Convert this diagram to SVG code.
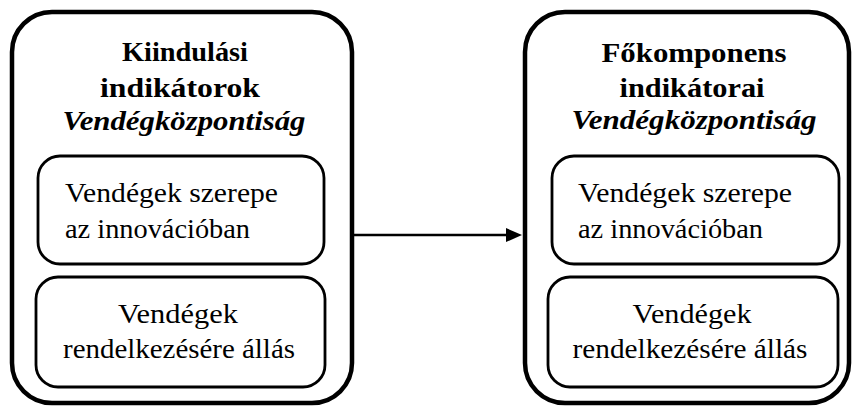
<svg xmlns="http://www.w3.org/2000/svg" width="859" height="410" viewBox="0 0 859 410" font-family="Liberation Serif, serif">
  <style>
    .outer { fill: #fff; stroke: #000; stroke-width: 4.5; }
    .inner { fill: #fff; stroke: #000; stroke-width: 2.8; }
    .title { font-size: 27px; font-weight: bold; fill: #000; }
    .sub { font-size: 27px; font-weight: bold; font-style: italic; fill: #000; }
    .body { font-size: 28px; fill: #000; }
    .conn { stroke: #000; stroke-width: 2.5; fill: none; }
  </style>
  <rect width="859" height="410" fill="#fff"/>

  <!-- Left block: starting indicators -->
  <g id="node-kiindulasi">
    <rect class="outer" x="12" y="12" width="340" height="391" rx="40" ry="40"/>
    <text class="title" x="185" y="61" text-anchor="middle" textLength="126" lengthAdjust="spacingAndGlyphs">Kiindulási</text>
    <text class="title" x="180" y="97" text-anchor="middle" textLength="160" lengthAdjust="spacingAndGlyphs">indikátorok</text>
    <text class="sub" x="184" y="130" text-anchor="middle" textLength="243" lengthAdjust="spacingAndGlyphs">Vendégközpontiság</text>
  </g>
  <g id="node-left-szerepe">
    <rect class="inner" x="38" y="156" width="286" height="108" rx="22" ry="22"/>
    <text class="body" x="65" y="202" textLength="213" lengthAdjust="spacingAndGlyphs">Vendégek szerepe</text>
    <text class="body" x="65" y="238" textLength="185" lengthAdjust="spacingAndGlyphs">az innovációban</text>
  </g>
  <g id="node-left-rendelkezes">
    <rect class="inner" x="36" y="277" width="289" height="110" rx="22" ry="22"/>
    <text class="body" x="178" y="323" text-anchor="middle" textLength="120" lengthAdjust="spacingAndGlyphs">Vendégek</text>
    <text class="body" x="179" y="358" text-anchor="middle" textLength="232" lengthAdjust="spacingAndGlyphs">rendelkezésére állás</text>
  </g>

  <!-- Right block: principal component indicators -->
  <g id="node-fokomponens">
    <rect class="outer" x="525" y="12" width="324" height="391" rx="40" ry="40"/>
    <text class="title" x="694" y="62" text-anchor="middle" textLength="185" lengthAdjust="spacingAndGlyphs">Főkomponens</text>
    <text class="title" x="692" y="97" text-anchor="middle" textLength="145" lengthAdjust="spacingAndGlyphs">indikátorai</text>
    <text class="sub" x="694" y="129" text-anchor="middle" textLength="245" lengthAdjust="spacingAndGlyphs">Vendégközpontiság</text>
  </g>
  <g id="node-right-szerepe">
    <rect class="inner" x="552" y="156" width="287" height="108" rx="22" ry="22"/>
    <text class="body" x="578" y="202" textLength="214" lengthAdjust="spacingAndGlyphs">Vendégek szerepe</text>
    <text class="body" x="578" y="238" textLength="185" lengthAdjust="spacingAndGlyphs">az innovációban</text>
  </g>
  <g id="node-right-rendelkezes">
    <rect class="inner" x="548" y="277" width="290" height="110" rx="22" ry="22"/>
    <text class="body" x="692" y="323" text-anchor="middle" textLength="119" lengthAdjust="spacingAndGlyphs">Vendégek</text>
    <text class="body" x="690" y="358" text-anchor="middle" textLength="235" lengthAdjust="spacingAndGlyphs">rendelkezésére állás</text>
  </g>

  <!-- Connectors -->
  <g id="connectors">
    <line class="conn" x1="354" y1="235" x2="508" y2="235"/>
    <polygon points="506,228 522,235 506,242" fill="#000"/>
  </g>
</svg>
